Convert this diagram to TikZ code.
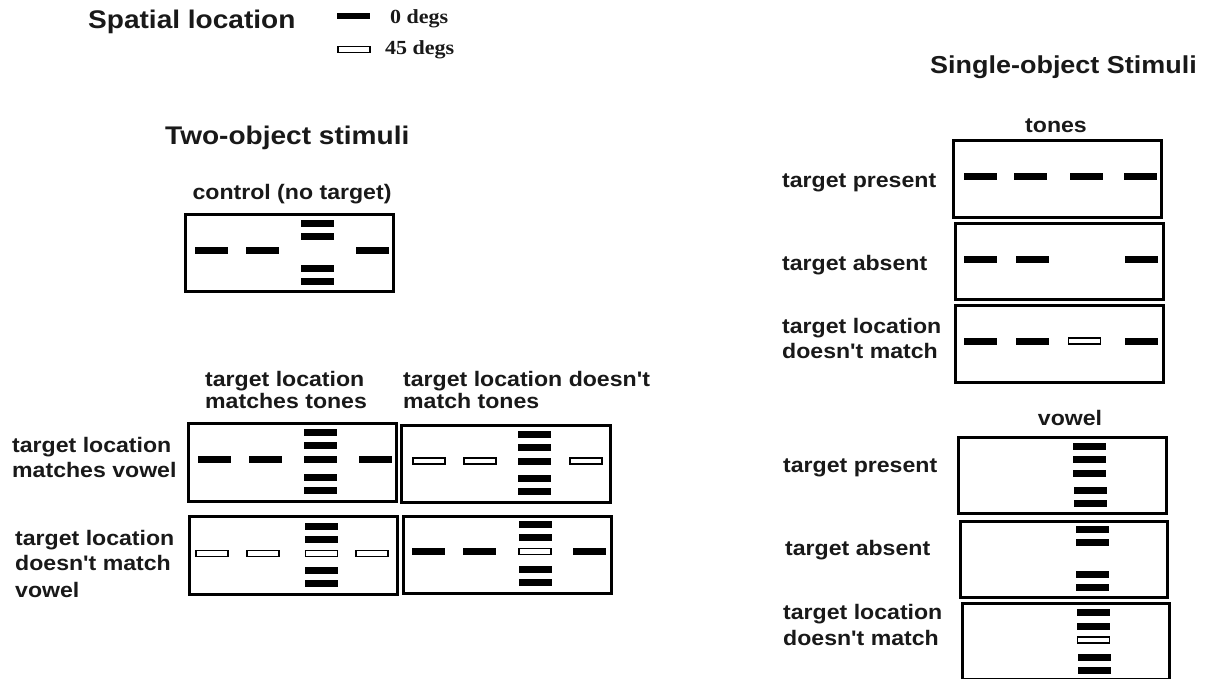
\documentclass[tikz,border=0pt]{standalone}
\usepackage{fontspec}
\newfontfamily\labfont{Liberation Sans}[FakeStretch=1.1]
\newfontfamily\legfont{Liberation Serif}[FakeStretch=1.1]

% filled bar (0 degs) and open bar (45 degs), centred at (x,y)
\newcommand\sbar[2]{\fill[solidbar] ({#1-16.5},{#2-3.5}) rectangle ++(33,7);}
\newcommand\obar[2]{\draw[openbar] ({#1-16},{#2-3}) rectangle ++(32,6);}

\tikzset{
  panel/.style={line width=3pt},
  solidbar/.style={fill=black},
  openbar/.style={draw=black, line width=1.1pt, fill=white},
  lab/.style={font=\labfont\bfseries\fontsize{21}{25}\selectfont, inner sep=0pt, anchor=base west, text=black!90},
  head/.style={lab, anchor=base},
  title/.style={font=\labfont\bfseries\fontsize{25.5}{30}\selectfont, inner sep=0pt, anchor=base west, text=black!90},
  leg/.style={font=\legfont\bfseries\fontsize{20}{24}\selectfont, inner sep=0pt, anchor=base west, text=black!90},
}

\begin{document}
\begin{tikzpicture}[x=1pt, y=-1pt]
\useasboundingbox (0,0) rectangle (1214,679);
\fill[white] (0,0) rectangle (1214,679);

% ---------- legend ----------
\node[title] (spatial) at (88,29) {Spatial location};
\fill[solidbar] (337,13) rectangle (370,19);
\draw[openbar] (338,46.5) rectangle (370,52.5);
\node[leg] (deg0) at (390,24) {0 degs};
\node[leg] (deg45) at (385,55) {45 degs};

% ---------- two-object stimuli ----------
\node[title] (twotitle) at (165,145) {Two-object stimuli};
\node[head] (ctrlhead) at (292,200) {control (no target)};

% control panel
\begin{scope}[shift={(185,214)}]
  \draw[panel] (0,0) rectangle (208,77);
  \sbar{26}{36} \sbar{77}{36} \sbar{187}{36}
  \sbar{132}{9} \sbar{132}{22.5} \sbar{132}{54} \sbar{132}{67}
\end{scope}

% column and row headings
\node[lab] (colA1) at (205,386) {target location};
\node[lab] (colA2) at (205,408) {matches tones};
\node[lab] (colB1) at (403,386) {target location doesn't};
\node[lab] (colB2) at (403,408) {match tones};
\node[lab] (rowA1) at (12,452) {target location};
\node[lab] (rowA2) at (12,477) {matches vowel};
\node[lab] (rowC1) at (15,545) {target location};
\node[lab] (rowC2) at (15,570) {doesn't match};
\node[lab] (rowC3) at (15,597) {vowel};

% matches tones / matches vowel
\begin{scope}[shift={(188,423)}]
  \draw[panel] (0,0) rectangle (208,78);
  \sbar{26}{36.5} \sbar{77}{36.5} \sbar{187}{36.5}
  \sbar{132}{9} \sbar{132}{22.5} \sbar{132}{36.5} \sbar{132}{54.5} \sbar{132}{67.5}
\end{scope}

% doesn't match tones / matches vowel
\begin{scope}[shift={(401,425)}]
  \draw[panel] (0,0) rectangle (209,77);
  \obar{28}{36} \obar{79}{36} \obar{185}{36}
  \sbar{133}{9} \sbar{133}{22.5} \sbar{133}{36} \sbar{133}{53.5} \sbar{133}{66.5}
\end{scope}

% matches tones / doesn't match vowel
\begin{scope}[shift={(189,516)}]
  \draw[panel] (0,0) rectangle (208,78);
  \obar{23}{37.5} \obar{74}{37.5} \obar{183}{37.5}
  \sbar{132.5}{10} \sbar{132.5}{23.5} \obar{132.5}{37.5} \sbar{132.5}{54.5} \sbar{132.5}{67.5}
\end{scope}

% doesn't match tones / doesn't match vowel
\begin{scope}[shift={(403,516)}]
  \draw[panel] (0,0) rectangle (208,77);
  \sbar{25.5}{35.5} \sbar{76.5}{35.5} \sbar{186.5}{35.5}
  \sbar{132}{8.5} \sbar{132}{21.5} \obar{132}{35.5} \sbar{132}{53.5} \sbar{132}{66.5}
\end{scope}

% ---------- single-object stimuli ----------
\node[title, font=\labfont\bfseries\fontsize{24.5}{29}\selectfont] (singletitle) at (930,74) {Single-object Stimuli};

% tones
\node[head] (toneshead) at (1056,133) {tones};
\node[lab] (tp) at (782,187) {target present};
\node[lab] (ta) at (782,270) {target absent};
\node[lab] (tl1) at (782,333) {target location};
\node[lab] (tl2) at (782,358) {doesn't match};

\begin{scope}[shift={(953,141)}]
  \draw[panel] (0,0) rectangle (208,76);
  \sbar{27}{36} \sbar{77}{36} \sbar{133.5}{36} \sbar{187.5}{36}
\end{scope}
\begin{scope}[shift={(955,223)}]
  \draw[panel] (0,0) rectangle (208,76);
  \sbar{25.5}{36} \sbar{77}{36} \sbar{186.5}{36}
\end{scope}
\begin{scope}[shift={(955,305)}]
  \draw[panel] (0,0) rectangle (208,77);
  \sbar{25.5}{36} \sbar{77}{36} \obar{129.5}{36} \sbar{186.5}{36}
\end{scope}

% vowel
\node[head] (vowelhead) at (1070,425) {vowel};
\node[lab] (vp) at (783,472) {target present};
\node[lab] (va) at (785,555) {target absent};
\node[lab] (vl1) at (783,619) {target location};
\node[lab] (vl2) at (783,645) {doesn't match};

\begin{scope}[shift={(958,437)}]
  \draw[panel] (0,0) rectangle (208,76);
  \sbar{131.5}{9} \sbar{131.5}{22.5} \sbar{131.5}{36.5} \sbar{132.5}{53.5} \sbar{132.5}{66.5}
\end{scope}
\begin{scope}[shift={(960,521)}]
  \draw[panel] (0,0) rectangle (207,76);
  \sbar{132}{8.5} \sbar{132}{21.5} \sbar{132.5}{53} \sbar{132.5}{66}
\end{scope}
\begin{scope}[shift={(962,603)}]
  \draw[panel] (0,0) rectangle (207,76);
  \sbar{131.5}{9.5} \sbar{131.5}{23} \obar{131.5}{37} \sbar{132.5}{54} \sbar{132.5}{67.5}
\end{scope}
\end{tikzpicture}
\end{document}
